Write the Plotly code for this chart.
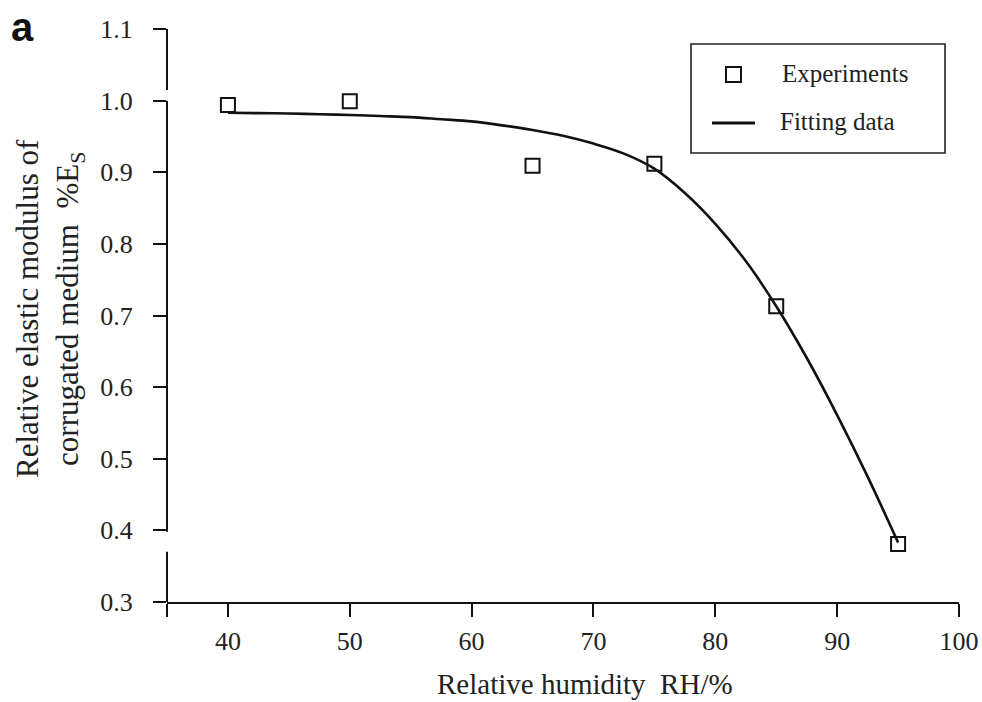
import plotly.graph_objects as go

# Experimental data
rh_exp = [40, 50, 65, 75, 85, 95]
mod_exp = [0.994, 0.999, 0.909, 0.912, 0.713, 0.381]

# Fitted curve (every 2.5 %RH)
rh_fit = [40, 42.5, 45, 47.5, 50, 52.5, 55, 57.5, 60, 62.5, 65, 67.5, 70, 72.5, 75,
          77.5, 80, 82.5, 85, 87.5, 90, 92.5, 95]
mod_fit = [0.983, 0.9825, 0.982, 0.981, 0.980, 0.9785, 0.977, 0.974, 0.971, 0.9655, 0.959,
           0.951, 0.940, 0.926, 0.905, 0.871, 0.828, 0.776, 0.713, 0.641, 0.561, 0.475, 0.383]

x_ticks = [40, 50, 60, 70, 80, 90, 100]
x_ticktext = ["40", "50", "60", "70", "80", "90", "100"]
y_ticks = [0.3, 0.4, 0.5, 0.6, 0.7, 0.8, 0.9, 1.0, 1.1]
y_ticktext = ["0.3", "0.4", "0.5", "0.6", "0.7", "0.8", "0.9", "1.0", "1.1"]

legend_labels = ["Experiments", "Fitting data"]

SERIF = "Liberation Serif, Times New Roman, serif"
INK = "#111111"
TXT = "#222222"

W, H = 982, 702
ML, MR, MT, MB = 167, 23, 29, 100
PW, PH = W - ML - MR, H - MT - MB


def px(xp):
    return (xp - ML) / PW


def py(yp):
    return (H - MB - yp) / PH


fig = go.Figure()
fig.add_trace(go.Scatter(
    x=rh_exp, y=mod_exp, mode="markers", name=legend_labels[0],
    marker=dict(symbol="square-open", size=14, color=INK, line=dict(width=2, color=INK)),
    showlegend=False,
))
fig.add_trace(go.Scatter(
    x=rh_fit, y=mod_fit, mode="lines", name=legend_labels[1],
    line=dict(color=INK, width=2.6, shape="spline", smoothing=1.0),
    showlegend=False,
))

shapes = []
# y-axis line drawn in pieces (broken as in the original)
for y0, y1 in [(1.1, 1.015), (1.0, 0.398), (0.37, 0.3)]:
    shapes.append(dict(type="line", xref="paper", yref="y", x0=0, x1=0, y0=y0, y1=y1,
                       line=dict(color=INK, width=2)))

# hand-drawn legend box
shapes.append(dict(type="rect", xref="paper", yref="paper",
                   x0=px(691), x1=px(945), y0=py(153), y1=py(44),
                   line=dict(color=TXT, width=1.6), fillcolor="white", layer="above"))
shapes.append(dict(type="rect", xref="paper", yref="paper",
                   x0=px(726), x1=px(741), y0=py(82), y1=py(67),
                   line=dict(color=INK, width=2), layer="above"))
shapes.append(dict(type="line", xref="paper", yref="paper",
                   x0=px(712), x1=px(755), y0=py(123), y1=py(123),
                   line=dict(color=INK, width=3), layer="above"))

annotations = [
    dict(text=legend_labels[0], xref="paper", yref="paper", x=px(780), y=py(73),
         xanchor="left", yanchor="middle", showarrow=False,
         font=dict(family=SERIF, size=25, color=TXT)),
    dict(text=legend_labels[1], xref="paper", yref="paper", x=px(778), y=py(121),
         xanchor="left", yanchor="middle", showarrow=False,
         font=dict(family=SERIF, size=25, color=TXT)),
    dict(text="<b>a</b>", xref="paper", yref="paper", x=px(22), y=py(27),
         xanchor="center", yanchor="middle", showarrow=False,
         font=dict(family="Liberation Sans, Arial, sans-serif", size=40, color=INK)),
    dict(text="Relative humidity\u00a0 RH/%", xref="paper", yref="paper",
         x=px(585), y=py(702), xanchor="center", yanchor="bottom", showarrow=False,
         font=dict(family=SERIF, size=29, color=TXT)),
    dict(text="Relative elastic modulus of<br>corrugated medium\u00a0 %E<sub>S</sub>",
         xref="paper", yref="paper", x=px(50), y=py(309), textangle=-90,
         xanchor="center", yanchor="middle", showarrow=False,
         font=dict(family=SERIF, size=31, color=TXT)),
]

fig.update_layout(
    width=W, height=H,
    margin=dict(l=ML, r=MR, t=MT, b=MB),
    plot_bgcolor="white", paper_bgcolor="white",
    font=dict(family=SERIF, color=TXT),
    showlegend=False,
    shapes=shapes,
    annotations=annotations,
    xaxis=dict(
        range=[35, 100], tickvals=x_ticks, ticktext=x_ticktext, automargin=False,
        showline=True, linecolor=INK, linewidth=2,
        ticks="outside", ticklen=13, tickwidth=2, tickcolor=INK,
        minor=dict(tickvals=[35], ticks="outside", ticklen=13, tickwidth=2, tickcolor=INK, showgrid=False),
        showgrid=False, zeroline=False, ticklabelstandoff=2,
        tickfont=dict(family=SERIF, size=26, color=TXT),
    ),
    yaxis=dict(
        range=[0.3, 1.1], tickvals=y_ticks, ticktext=y_ticktext, automargin=False,
        showline=False,
        ticks="outside", ticklen=13, tickwidth=2, tickcolor=INK,
        showgrid=False, zeroline=False, ticklabelstandoff=15,
        tickfont=dict(family=SERIF, size=26, color=TXT),
    ),
)

fig.write_html("out.html")
